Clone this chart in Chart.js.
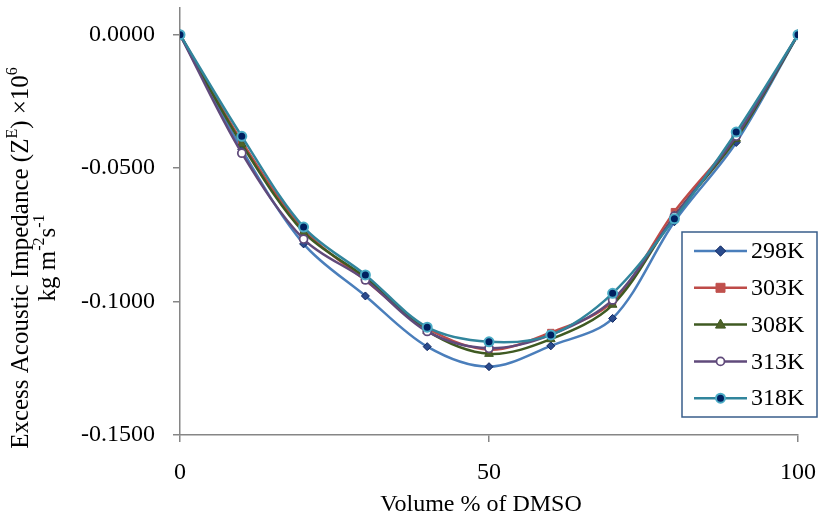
<!DOCTYPE html>
<html>
<head>
<meta charset="utf-8">
<script src="https://cdn.jsdelivr.net/npm/chart.js@4.4.1/dist/chart.umd.min.js"></script>
<style>
  html, body { margin: 0; padding: 0; background: #ffffff; }
  #wrap { width: 820px; height: 516px; }
</style>
</head>
<body>
<div id="wrap"><canvas id="c" width="820" height="516"></canvas></div>
<script>
// ---- data ----
const volumePct = [0, 10, 20, 30, 40, 50, 60, 70, 80, 90, 100];
const seriesNames = ['298K', '303K', '308K', '313K', '318K'];
const z298 = [0, -0.0430, -0.0784, -0.0979, -0.1169, -0.1244, -0.1166, -0.1063, -0.0701, -0.0404, 0];
const z303 = [0, -0.0400, -0.0730, -0.0920, -0.1100, -0.1180, -0.1116, -0.1000, -0.0663, -0.0380, 0];
const z308 = [0, -0.0410, -0.0740, -0.0910, -0.1110, -0.1196, -0.1141, -0.1012, -0.0680, -0.0390, 0];
const z313 = [0, -0.0444, -0.0766, -0.0919, -0.1112, -0.1175, -0.1125, -0.0994, -0.0680, -0.0380, 0];
const z318 = [0, -0.0381, -0.0721, -0.0900, -0.1096, -0.1151, -0.1125, -0.0969, -0.0690, -0.0365, 0];
const xTicks = [0, 50, 100];
const yTicks = [-0.15, -0.10, -0.05, 0];
const xTitle = 'Volume % of DMSO';
const yTitle1 = [['Excess Acoustic Impedance (Z', 0], ['E', 1], [') \u00d710', 0], ['6', 1]];
const yTitle2 = [['kg m', 0], ['-2', 1], ['s', 0], ['-1', 1]];

const FONT = '"Liberation Serif", "Times New Roman", serif';
const FS = 24;
const TFS = 25;

const styles = [
  { line: '#4a7ebb', style: 'diamond',  r: 4,   fill: '#2a4b8d', stroke: '#0f2660', bw: 1 },
  { line: '#be4b48', style: 'square',   r: 4.5, fill: '#c0504d', stroke: '#c0504d', bw: 1 },
  { line: '#3f5a22', style: 'triangle', r: 5,   fill: '#4f6228', stroke: '#3f5a22', bw: 1 },
  { line: '#604a7b', style: 'circle',   r: 4,   fill: '#ffffff', stroke: '#604a7b', bw: 1.75 },
  { line: '#31859c', style: 'circle',   r: 4.5, fill: '#002060', stroke: '#4bacc6', bw: 2 }
];
const allSeries = [z298, z303, z308, z313, z318];
const csStyle = { diamond: 'rectRot', square: 'rect', triangle: 'triangle', circle: 'circle' };

const datasets = allSeries.map((vals, i) => ({
  label: seriesNames[i],
  data: vals.map((v, k) => ({ x: volumePct[k], y: v })),
  borderColor: styles[i].line,
  borderWidth: 2.5,
  backgroundColor: styles[i].fill,
  pointStyle: csStyle[styles[i].style],
  pointRadius: styles[i].r,
  pointBackgroundColor: styles[i].fill,
  pointBorderColor: styles[i].stroke,
  pointBorderWidth: styles[i].bw,
  tension: 0.33,
  fill: false,
  order: seriesNames.length - i
}));

function drawMarker(ctx, st, x, y) {
  ctx.save();
  ctx.fillStyle = st.fill; ctx.strokeStyle = st.stroke; ctx.lineWidth = st.bw;
  ctx.beginPath();
  const r = st.r;
  if (st.style === 'diamond') {
    const d = r * 1.3;
    ctx.moveTo(x, y - d); ctx.lineTo(x + d, y); ctx.lineTo(x, y + d); ctx.lineTo(x - d, y); ctx.closePath();
  } else if (st.style === 'square') {
    ctx.rect(x - r, y - r, 2 * r, 2 * r);
  } else if (st.style === 'triangle') {
    ctx.moveTo(x, y - r * 1.1); ctx.lineTo(x + r, y + r * 0.7); ctx.lineTo(x - r, y + r * 0.7); ctx.closePath();
  } else {
    ctx.arc(x, y, r, 0, Math.PI * 2);
  }
  ctx.fill(); ctx.stroke();
  ctx.restore();
}

function runsWidth(ctx, runs, fs) {
  let w = 0;
  runs.forEach(([t, sup]) => {
    ctx.font = (sup ? Math.round(fs * 0.62) : fs) + 'px ' + FONT;
    w += ctx.measureText(t).width;
  });
  return w;
}
function drawRuns(ctx, runs, x0, y0, fs) {
  let x = x0;
  runs.forEach(([t, sup]) => {
    ctx.font = (sup ? Math.round(fs * 0.62) : fs) + 'px ' + FONT;
    ctx.fillText(t, x, sup ? y0 - fs * 0.34 : y0);
    x += ctx.measureText(t).width;
  });
}

const overlay = {
  id: 'overlay',
  afterDraw(chart) {
    const ctx = chart.ctx;
    ctx.save();
    ctx.fillStyle = '#000000';
    ctx.textBaseline = 'middle';
    // x title
    ctx.font = FS + 'px ' + FONT;
    ctx.textAlign = 'center';
    ctx.fillText(xTitle, 481, 505);
    ctx.textAlign = 'left';
    // y title (rotated, two lines)
    const cy = 258;
    [[yTitle1, 21], [yTitle2, 48]].forEach(([runs, cx]) => {
      ctx.save();
      ctx.translate(cx, cy);
      ctx.rotate(-Math.PI / 2);
      const w = runsWidth(ctx, runs, TFS);
      drawRuns(ctx, runs, -w / 2, 0, TFS);
      ctx.restore();
    });
    // legend
    const lx = 682, ly = 232, lw = 135, lh = 185;
    ctx.fillStyle = '#ffffff';
    ctx.fillRect(lx, ly, lw, lh);
    ctx.strokeStyle = '#385d8a';
    ctx.lineWidth = 1.5;
    ctx.strokeRect(lx, ly, lw, lh);
    seriesNames.forEach((name, i) => {
      const y = 251 + i * 36.8;
      ctx.strokeStyle = styles[i].line;
      ctx.lineWidth = 2.5;
      ctx.beginPath(); ctx.moveTo(694, y); ctx.lineTo(747, y); ctx.stroke();
      drawMarker(ctx, styles[i], 720.5, y);
      ctx.fillStyle = '#000000';
      ctx.font = FS + 'px ' + FONT;
      ctx.fillText(name, 751, y + 1);
    });
    ctx.restore();
  }
};

new Chart(document.getElementById('c'), {
  type: 'line',
  data: { datasets },
  plugins: [overlay],
  options: {
    responsive: false,
    animation: false,
    devicePixelRatio: 1,
    layout: { padding: { top: 8, right: 22, left: 0, bottom: 0 } },
    plugins: { legend: { display: false }, tooltip: { enabled: false } },
    scales: {
      x: {
        type: 'linear', min: 0, max: 100,
        afterBuildTicks: s => { s.ticks = xTicks.map(v => ({ value: v })); },
        afterFit: s => { s.height = 81; s.paddingLeft = 0; s.paddingRight = 0; },
        ticks: { color: '#000', font: { family: FONT, size: FS }, padding: 16, maxRotation: 0 },
        grid: { drawOnChartArea: false, drawTicks: true, tickLength: 7, color: '#868686', lineWidth: 1.5 },
        border: { color: '#868686', width: 1.5 }
      },
      y: {
        type: 'linear', min: -0.15, max: 0.01,
        afterBuildTicks: s => { s.ticks = yTicks.map(v => ({ value: v })); },
        afterFit: s => { s.width = 180; s.paddingTop = 0; s.paddingBottom = 0; },
        ticks: { color: '#000', font: { family: FONT, size: FS }, padding: 18, callback: v => v.toFixed(4) },
        grid: { drawOnChartArea: false, drawTicks: true, tickLength: 7, color: '#868686', lineWidth: 1.5 },
        border: { color: '#868686', width: 1.5 }
      }
    }
  }
});
</script>
</body>
</html>
